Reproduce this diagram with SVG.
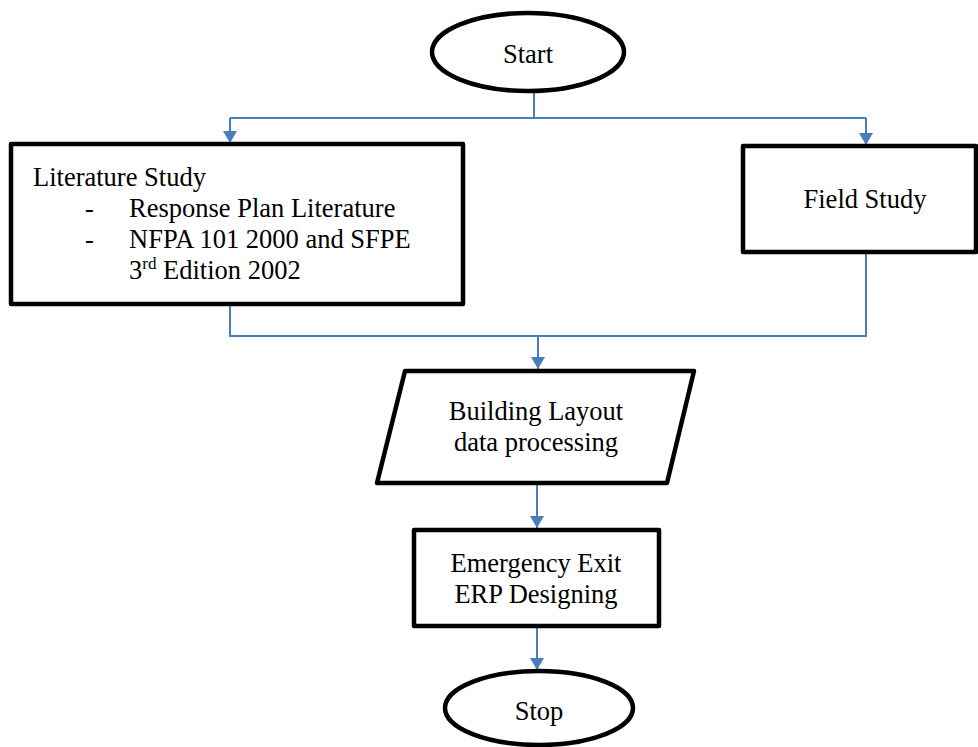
<svg xmlns="http://www.w3.org/2000/svg" width="978" height="747" viewBox="0 0 978 747">
<style>
.shape{fill:#fff;stroke:#000;stroke-width:4.5;stroke-linejoin:round}
.t{font-family:"Liberation Serif","Times New Roman",serif;font-size:26.5px;fill:#000}
.c{text-anchor:middle}
.conn{fill:none;stroke:#4a7ebb;stroke-width:2}
</style>
<defs>
<marker id="arr" viewBox="0 0 12 14" refX="12" refY="7" markerWidth="12" markerHeight="14" markerUnits="userSpaceOnUse" orient="auto">
<path d="M0,0 L12,7 L0,14 Z" fill="#4a7ebb"/>
</marker>
</defs>
<rect width="978" height="747" fill="#fff"/>
<g id="connectors">
<path class="conn" d="M534,92 V118"/>
<path class="conn" d="M230,118 H866"/>
<path class="conn" d="M230,118 V143" marker-end="url(#arr)"/>
<path class="conn" d="M866,118 V145" marker-end="url(#arr)"/>
<path class="conn" d="M230,305 V336 H866 V253"/>
<path class="conn" d="M538,336 V369" marker-end="url(#arr)"/>
<path class="conn" d="M537,484 V528" marker-end="url(#arr)"/>
<path class="conn" d="M537,627 V670" marker-end="url(#arr)"/>
</g>
<g id="start">
<ellipse class="shape" cx="528" cy="52" rx="96" ry="39"/>
<text class="t c" x="528" y="63">Start</text>
</g>
<g id="literature">
<rect class="shape" x="11" y="144" width="452" height="160"/>
<text class="t" x="33" y="186">Literature Study</text>
<text class="t" x="85" y="217">-</text>
<text class="t" x="129" y="217">Response Plan Literature</text>
<text class="t" x="85" y="248">-</text>
<text class="t" x="129" y="248">NFPA 101 2000 and SFPE</text>
<text class="t" x="129" y="279">3<tspan font-size="17" dy="-10">rd</tspan><tspan dy="10"> Edition 2002</tspan></text>
</g>
<g id="field">
<rect class="shape" x="743" y="146" width="233" height="106"/>
<text class="t c" x="865" y="208">Field Study</text>
</g>
<g id="building">
<polygon class="shape" points="405,371 694,371 667,483 377,483"/>
<text class="t c" x="536" y="420">Building Layout</text>
<text class="t c" x="536" y="451">data processing</text>
</g>
<g id="erp">
<rect class="shape" x="414" y="530" width="245" height="96"/>
<text class="t c" x="536" y="572">Emergency Exit</text>
<text class="t c" x="536" y="603">ERP Designing</text>
</g>
<g id="stop">
<ellipse class="shape" cx="539" cy="708" rx="94" ry="37"/>
<text class="t c" x="539" y="720">Stop</text>
</g>
</svg>
